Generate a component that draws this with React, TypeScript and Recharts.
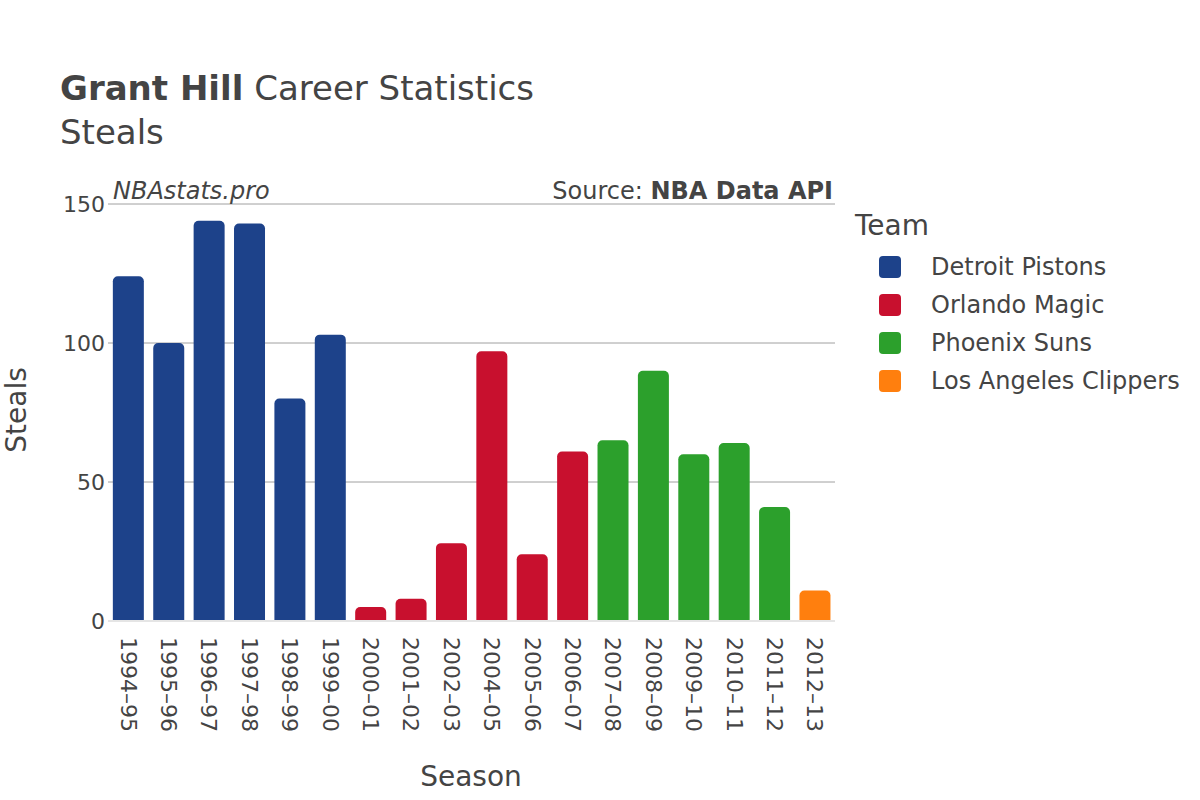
import React from 'react'
import { BarChart, Bar, Cell, XAxis, YAxis, CartesianGrid, ReferenceLine } from 'recharts'

const seasons = [
  '1994–95', '1995–96', '1996–97', '1997–98', '1998–99', '1999–00',
  '2000–01', '2001–02', '2002–03', '2004–05', '2005–06', '2006–07',
  '2007–08', '2008–09', '2009–10', '2010–11', '2011–12', '2012–13',
]

const steals = [124, 100, 144, 143, 80, 103, 5, 8, 28, 97, 24, 61, 65, 90, 60, 64, 41, 11]

const teams = [
  'Detroit Pistons', 'Detroit Pistons', 'Detroit Pistons', 'Detroit Pistons', 'Detroit Pistons', 'Detroit Pistons',
  'Orlando Magic', 'Orlando Magic', 'Orlando Magic', 'Orlando Magic', 'Orlando Magic', 'Orlando Magic',
  'Phoenix Suns', 'Phoenix Suns', 'Phoenix Suns', 'Phoenix Suns', 'Phoenix Suns',
  'Los Angeles Clippers',
]

const teamNames = ['Detroit Pistons', 'Orlando Magic', 'Phoenix Suns', 'Los Angeles Clippers']
const teamColors: Record<string, string> = {
  'Detroit Pistons': '#1d428a',
  'Orlando Magic': '#c8102e',
  'Phoenix Suns': '#2ca02c',
  'Los Angeles Clippers': '#ff7f0e',
}

const yTicks = [0, 50, 100, 150]

const FONT = '"DejaVu Sans", sans-serif'
const INK = '#444'

const data = seasons.map((s, i) => ({ season: s, steals: steals[i], team: teams[i] }))

function SeasonTick(props: any) {
  const { x, y, payload } = props
  return (
    <text
      transform={`translate(${x},${y + 8}) rotate(90)`}
      textAnchor="start"
      dominantBaseline="central"
      fontSize={22}
      fill={INK}
      fontFamily={FONT}
    >
      {payload.value}
    </text>
  )
}

function ValueTick(props: any) {
  const { x, y, payload } = props
  return (
    <text x={x} y={y} textAnchor="end" dominantBaseline="central" fontSize={22} fill={INK} fontFamily={FONT}>
      {payload.value}
    </text>
  )
}

export default function App() {
  return (
    <div style={{ position: 'absolute', left: 0, top: 0, width: 1200, height: 800, background: '#fff', fontFamily: FONT, color: INK }}>
      <BarChart
        width={1200}
        height={800}
        data={data}
        margin={{ top: 204, right: 365, left: 0, bottom: 0 }}
        barCategoryGap="12%"
      >
        <CartesianGrid vertical={false} horizontalValues={[50, 100, 150]} stroke="#a0a0a0" strokeWidth={1} />
        <XAxis
          dataKey="season"
          height={179}
          tickLine={false}
          axisLine={false}
          interval={0}
          tick={<SeasonTick />}
        />
        <YAxis
          width={108}
          domain={[0, 150]}
          ticks={yTicks}
          tickLine={false}
          axisLine={false}
          tickSize={0}
          tickMargin={3}
          tick={<ValueTick />}
        />
        <ReferenceLine y={0} stroke="#e5e5e5" strokeWidth={2} />
        <Bar dataKey="steals" isAnimationActive={false} radius={[5, 5, 0, 0]}>
          {data.map((d, i) => (
            <Cell key={i} fill={teamColors[d.team]} />
          ))}
        </Bar>
      </BarChart>

      <div style={{ position: 'absolute', left: 60, top: 68, fontSize: 34, whiteSpace: 'nowrap', lineHeight: '40px' }}>
        <b>Grant Hill</b> Career Statistics
      </div>
      <div style={{ position: 'absolute', left: 60, top: 112, fontSize: 34, lineHeight: '40px' }}>Steals</div>

      <div style={{ position: 'absolute', left: 113, top: 176, fontSize: 24, fontStyle: 'italic', lineHeight: '30px' }}>NBAstats.pro</div>
      <div style={{ position: 'absolute', right: 1200 - 833, top: 176, fontSize: 24, lineHeight: '30px', whiteSpace: 'nowrap' }}>
        Source: <b>NBA Data API</b>
      </div>

      <div style={{ position: 'absolute', left: 1, top: 410, width: 0, height: 0 }}>
        <div style={{ position: 'absolute', left: 0, top: 0, transform: 'rotate(-90deg)', transformOrigin: '0 0', fontSize: 28, lineHeight: '32px', whiteSpace: 'nowrap' }}>
          <span style={{ display: 'inline-block', transform: 'translateX(-50%)' }}>Steals</span>
        </div>
      </div>

      <div style={{ position: 'absolute', left: 471, top: 760, transform: 'translateX(-50%)', fontSize: 28, lineHeight: '34px' }}>Season</div>

      <div style={{ position: 'absolute', left: 855, top: 208, fontSize: 28, lineHeight: '36px' }}>Team</div>
      {teamNames.map((t, i) => (
        <div key={t} style={{ position: 'absolute', left: 879, top: 253 + i * 38, height: 28, display: 'flex', alignItems: 'center', whiteSpace: 'nowrap' }}>
          <span style={{ width: 22, height: 22, borderRadius: 4, background: teamColors[t], display: 'inline-block' }} />
          <span style={{ marginLeft: 30, fontSize: 24 }}>{t}</span>
        </div>
      ))}
    </div>
  )
}
